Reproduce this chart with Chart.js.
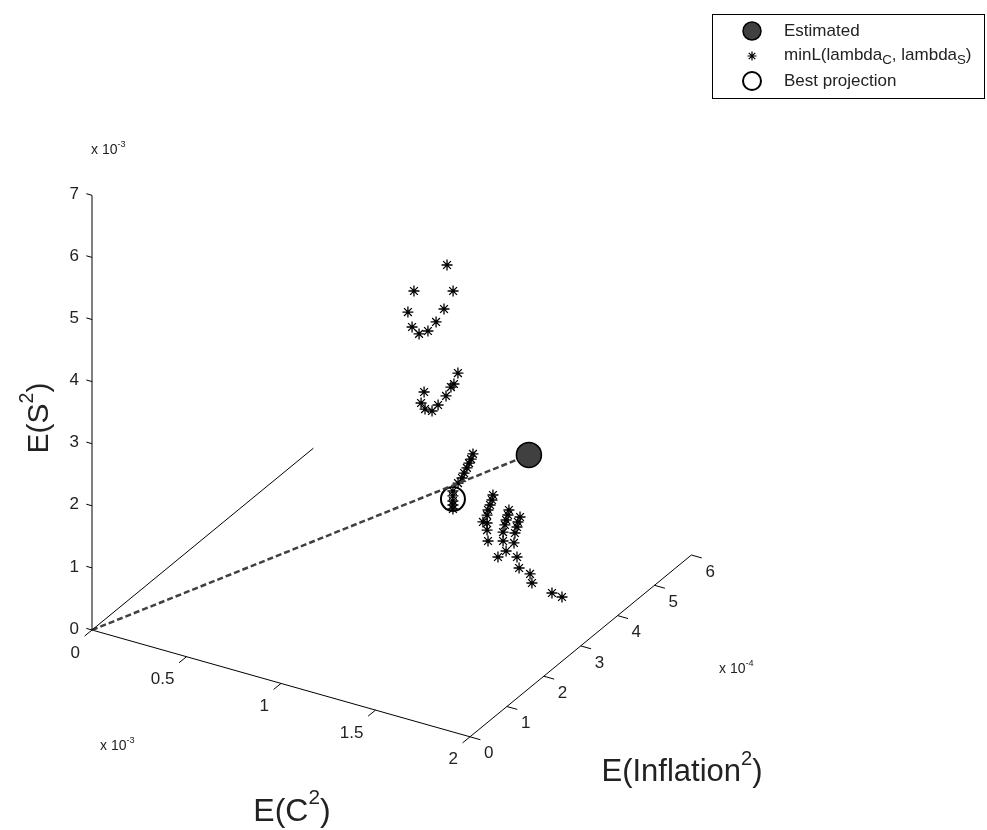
<!DOCTYPE html>
<html>
<head>
<meta charset="utf-8">
<script src="https://cdn.jsdelivr.net/npm/chart.js@4"></script>
<style>
html, body { margin: 0; padding: 0; background: #fff; }
#wrap { width: 987px; height: 830px; }
</style>
</head>
<body>
<div id="wrap"><canvas id="chart" width="987" height="830"></canvas></div>
<script>
// tick labels of the three axes
var cTicks = [0, 0.5, 1, 1.5, 2];          // E(C^2)          x 10^-3
var inflTicks = [0, 1, 2, 3, 4, 5, 6];      // E(Inflation^2)  x 10^-4
var sTicks = [0, 1, 2, 3, 4, 5, 6, 7];      // E(S^2)          x 10^-3

// estimated moments and best projection (C, Inflation, S)
var estimated = [1.726, 3.0, 2.839];
var bestProj = [1.324, 3.0, 1.784];

// minL(lambda_C, lambda_S) points
var minC = [1.488, 1.313, 1.520, 1.281, 1.472, 1.303, 1.430, 1.340, 1.387,
            1.448, 1.427, 1.411, 1.269, 1.385, 1.253, 1.343, 1.274, 1.311,
            1.430, 1.420, 1.409, 1.398, 1.383, 1.372, 1.351, 1.324, 1.324, 1.324, 1.324, 1.324,
            1.438, 1.433, 1.423, 1.412, 1.407, 1.385, 1.407, 1.407, 1.412,
            1.425, 1.420, 1.410, 1.404, 1.394, 1.394, 1.410, 1.367,
            1.679, 1.668, 1.663, 1.652, 1.647, 1.663, 1.674,
            1.732, 1.742, 1.848, 1.901];
var minInfl = [2.0, 2.0, 2.0, 2.0, 2.0, 2.0, 2.0, 2.0, 2.0,
               2.5, 2.5, 2.5, 2.5, 2.5, 2.5, 2.5, 2.5, 2.5,
               3.0, 3.0, 3.0, 3.0, 3.0, 3.0, 3.0, 3.0, 3.0, 3.0, 3.0, 3.0,
               3.5, 3.5, 3.5, 3.5, 3.5, 3.5, 3.5, 3.5, 3.5,
               4.0, 4.0, 4.0, 4.0, 4.0, 4.0, 4.0, 4.0,
               3.0, 3.0, 3.0, 3.0, 3.0, 3.0, 3.0,
               3.0, 3.0, 3.0, 3.0];
var minS = [6.181, 5.612, 5.790, 5.246, 5.459, 5.024, 5.214, 4.944, 5.032,
            4.163, 3.969, 3.906, 3.704, 3.740, 3.513, 3.558, 3.434, 3.434,
            2.601, 2.510, 2.436, 2.348, 2.253, 2.164, 2.064, 1.913, 1.833, 1.752, 1.688, 1.623,
            1.703, 1.618, 1.529, 1.439, 1.353, 1.223, 1.225, 1.112, 0.940,
            1.206, 1.121, 1.032, 0.947, 0.824, 0.680, 0.533, 0.399,
            1.800, 1.710, 1.625, 1.519, 1.354, 1.142, 0.974,
            0.928, 0.791, 0.721, 0.702];

var FONT = '"Liberation Sans", Arial, sans-serif';

// camera: where the origin lands and how one unit of each axis moves on screen
var view = { ox: 92, oy: 630, c: [189, 53.4], i: [36.9, -30.3], s: [0, -62.1] };

function proj(c, i, s) {
    return {
        x: view.ox + c * view.c[0] + i * view.i[0] + s * view.s[0],
        y: view.oy + c * view.c[1] + i * view.i[1] + s * view.s[1]
    };
}

var starPts = minC.map(function (c, k) { return proj(c, minInfl[k], minS[k]); });

// text with a superscript / subscript part
function richText(ctx, parts, x, y, size, align, small) {
    small = small || 0.65;
    var w = 0;
    parts.forEach(function (p) {
        ctx.font = (p.sub || p.sup ? size * small : size) + 'px ' + FONT;
        w += ctx.measureText(p.t).width;
    });
    var cx = align === 'center' ? x - w / 2 : (align === 'right' ? x - w : x);
    ctx.textAlign = 'left';
    ctx.textBaseline = 'middle';
    parts.forEach(function (p) {
        ctx.font = (p.sub || p.sup ? size * small : size) + 'px ' + FONT;
        var dy = p.sup ? -size * 0.42 : (p.sub ? size * 0.32 : 0);
        ctx.fillText(p.t, cx, y + dy);
        cx += ctx.measureText(p.t).width;
    });
}

var axesPlugin = {
    id: 'axes3d',
    beforeDatasetsDraw: function (chart) {
        var ctx = chart.ctx, sx = chart.scales.x, sy = chart.scales.y;
        function px(p) { return [sx.getPixelForValue(p.x), sy.getPixelForValue(p.y)]; }
        function seg(a, b) {
            var A = px(a), B = px(b);
            ctx.beginPath(); ctx.moveTo(A[0], A[1]); ctx.lineTo(B[0], B[1]); ctx.stroke();
        }
        ctx.save();
        ctx.strokeStyle = '#000';
        ctx.fillStyle = '#222';
        ctx.lineWidth = 1;

        // E(C^2) axis
        seg(proj(0, 0, 0), proj(2, 0, 0));
        cTicks.forEach(function (t) {
            seg(proj(t, 0, 0), proj(t, -0.2, 0));
            var p = px(proj(t, 0, 0));
            ctx.font = '17px ' + FONT; ctx.textAlign = 'right'; ctx.textBaseline = 'middle';
            ctx.fillText(String(t), p[0] - 12, p[1] + 23);
        });
        // E(Inflation^2) axis
        seg(proj(2, 0, 0), proj(2, 6, 0));
        inflTicks.forEach(function (t) {
            seg(proj(2, t, 0), proj(2.055, t, 0));
            var p = px(proj(2, t, 0));
            ctx.font = '17px ' + FONT; ctx.textAlign = 'left'; ctx.textBaseline = 'middle';
            ctx.fillText(String(t), p[0] + 14, p[1] + 17);
        });
        // E(S^2) axis
        seg(proj(0, 0, 0), proj(0, 0, 7));
        sTicks.forEach(function (t) {
            seg(proj(0, 0, t), proj(-0.03, 0, t));
            var p = px(proj(0, 0, t));
            ctx.font = '17px ' + FONT; ctx.textAlign = 'right'; ctx.textBaseline = 'middle';
            ctx.fillText(String(t), p[0] - 13, p[1] - 1);
        });

        // exponents
        richText(ctx, [{ t: 'x 10' }, { t: '-3', sup: true }], 91, 150, 14, 'left');
        richText(ctx, [{ t: 'x 10' }, { t: '-3', sup: true }], 100, 746, 14, 'left');
        richText(ctx, [{ t: 'x 10' }, { t: '-4', sup: true }], 719, 669, 14, 'left');

        // axis titles
        richText(ctx, [{ t: 'E(C' }, { t: '2', sup: true }, { t: ')' }], 292, 812, 32, 'center');
        richText(ctx, [{ t: 'E(Inflation' }, { t: '2', sup: true }, { t: ')' }], 682, 772, 31, 'center');
        ctx.save();
        ctx.translate(40, 418);
        ctx.rotate(-Math.PI / 2);
        richText(ctx, [{ t: 'E(S' }, { t: '2', sup: true }, { t: ')' }], 0, 0, 30, 'center');
        ctx.restore();
        ctx.restore();
    }
};

var legendPlugin = {
    id: 'legendBox',
    afterDraw: function (chart) {
        var ctx = chart.ctx;
        ctx.save();
        ctx.fillStyle = '#fff';
        ctx.fillRect(712, 14, 273, 85);
        ctx.strokeStyle = '#000';
        ctx.lineWidth = 1;
        ctx.strokeRect(712.5, 14.5, 272, 84);
        var mx = 752, tx = 784;
        // Estimated
        ctx.beginPath(); ctx.arc(mx, 31, 9, 0, Math.PI * 2);
        ctx.fillStyle = '#404040'; ctx.fill(); ctx.lineWidth = 1.5; ctx.stroke();
        // star
        ctx.lineWidth = 1.2;
        ctx.beginPath();
        ctx.moveTo(mx - 4.5, 56); ctx.lineTo(mx + 4.5, 56);
        ctx.moveTo(mx, 51.5); ctx.lineTo(mx, 60.5);
        ctx.moveTo(mx - 3.2, 52.8); ctx.lineTo(mx + 3.2, 59.2);
        ctx.moveTo(mx + 3.2, 52.8); ctx.lineTo(mx - 3.2, 59.2);
        ctx.stroke();
        // Best projection
        ctx.beginPath(); ctx.arc(mx, 81, 9, 0, Math.PI * 2);
        ctx.lineWidth = 2; ctx.stroke();

        ctx.fillStyle = '#222';
        richText(ctx, [{ t: 'Estimated' }], tx, 31, 17, 'left');
        richText(ctx, [{ t: 'minL(lambda' }, { t: 'C', sub: true }, { t: ', lambda' }, { t: 'S', sub: true }, { t: ')' }], tx, 55, 17, 'left', 0.78);
        richText(ctx, [{ t: 'Best projection' }], tx, 81, 17, 'left');
        ctx.restore();
    }
};

new Chart(document.getElementById('chart'), {
    type: 'scatter',
    data: {
        datasets: [
            {
                // inflation direction at C = 0
                data: [proj(0, 0, 0), proj(0, 6, 0)],
                showLine: true, pointRadius: 0, borderColor: '#000', borderWidth: 1
            },
            {
                data: [proj(0, 0, 0), proj(estimated[0], estimated[1], estimated[2])],
                showLine: true, pointRadius: 0, borderColor: '#404040', borderWidth: 2.5,
                borderDash: [6, 3]
            },
            {
                label: 'minL',
                data: starPts,
                pointStyle: 'star', pointRadius: 5.5, borderColor: '#000', borderWidth: 1.3,
                backgroundColor: '#000'
            },
            {
                label: 'Best projection',
                data: [proj(bestProj[0], bestProj[1], bestProj[2])],
                pointStyle: 'circle', pointRadius: 12, borderColor: '#000', borderWidth: 2,
                backgroundColor: 'rgba(0,0,0,0)'
            },
            {
                label: 'Estimated',
                data: [proj(estimated[0], estimated[1], estimated[2])],
                pointStyle: 'circle', pointRadius: 12.5, borderColor: '#000', borderWidth: 1.5,
                backgroundColor: '#404040'
            }
        ]
    },
    options: {
        responsive: false,
        animation: false,
        devicePixelRatio: 1,
        events: [],
        layout: { padding: 0, autoPadding: false },
        plugins: { legend: { display: false }, tooltip: { enabled: false } },
        scales: {
            x: { type: 'linear', min: 0, max: 987, display: false },
            y: { type: 'linear', min: 0, max: 830, reverse: true, display: false }
        }
    },
    plugins: [axesPlugin, legendPlugin]
});
</script>
</body>
</html>
